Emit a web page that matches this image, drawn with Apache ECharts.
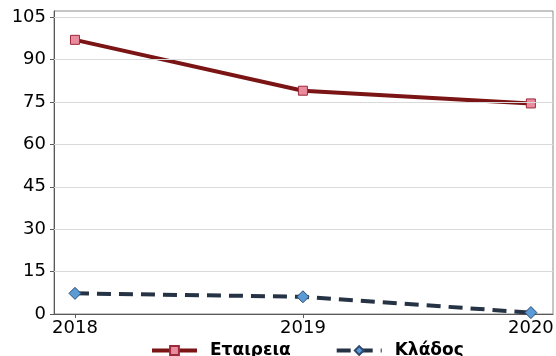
<!DOCTYPE html>
<html lang="el">
<head>
<meta charset="UTF-8">
<title>Chart</title>
<script src="https://cdn.jsdelivr.net/npm/echarts@6/dist/echarts.min.js"></script>
</head>
<body style="margin:0">
<div id="main" style="width:556px;height:356px;"></div>
<script>
var years = [2018, 2019, 2020];
var etaireia = [97, 79, 74.5];
var klados = [7.3, 6.1, 0.5];
var yTicks = [0, 15, 30, 45, 60, 75, 90, 105];

var pairs = function (vals) {
    var res = [];
    for (var i = 0; i < years.length; i++) res.push([years[i], vals[i]]);
    return res;
};

var myChart = echarts.init(document.getElementById('main'));
var font = 'DejaVu Sans, Verdana, sans-serif';

var option = {
    animation: false,
    grid: {
        left: 54, right: 3, top: 11, bottom: 42,
        outerBoundsMode: 'none', containLabel: false,
        show: true, borderColor: '#8c8c8c', borderWidth: 1
    },
    legend: {
        bottom: -3, left: 150, padding: 0, itemWidth: 45, itemHeight: 11, itemGap: 44,
        textStyle: { fontFamily: font, fontSize: 17, fontWeight: 'bold', color: '#000', padding: [0, 0, 0, 8] },
        lineStyle: { width: 4 },
        data: ['Εταιρεια', 'Κλάδος']
    },
    xAxis: {
        type: 'value', min: 2017.908, max: 2020.097,
        splitLine: { show: false },
        axisLine: { show: true, lineStyle: { color: '#595959' } },
        axisTick: { show: true, length: 4, customValues: years, lineStyle: { color: '#595959' } },
        axisLabel: {
            customValues: years, fontFamily: font, fontSize: 18, color: '#000', margin: 5,
            formatter: function (v) { return String(v); }
        }
    },
    yAxis: {
        type: 'value', min: 0, max: 107.2,
        axisLine: { show: true, lineStyle: { color: '#595959' } },
        axisTick: { show: true, length: 4, customValues: yTicks, lineStyle: { color: '#595959' } },
        axisLabel: { customValues: yTicks, fontFamily: font, fontSize: 18, color: '#000', margin: 8 },
        splitLine: { show: false }
    },
    series: [{
        name: 'Εταιρεια', type: 'line', data: pairs(etaireia),
        symbol: 'rect', symbolSize: 9,
        lineStyle: { color: '#7b1414', width: 4 },
        itemStyle: { color: '#ea8c9e', borderColor: '#9c2a3a', borderWidth: 1 },
        markLine: {
            silent: true, symbol: 'none', label: { show: false },
            lineStyle: { color: '#d9d9d9', type: 'solid', width: 1 },
            data: yTicks.slice(1).map(function (v) { return { yAxis: v }; })
        },
        z: 3
    }, {
        name: 'Κλάδος', type: 'line', data: pairs(klados),
        symbol: 'diamond', symbolSize: 12,
        lineStyle: { color: '#253345', width: 4, type: [14, 8] },
        itemStyle: { color: '#5b9bd5', borderColor: '#2e4a6e', borderWidth: 1 },
        z: 3
    }]
};
myChart.setOption(option);
</script>
</body>
</html>
